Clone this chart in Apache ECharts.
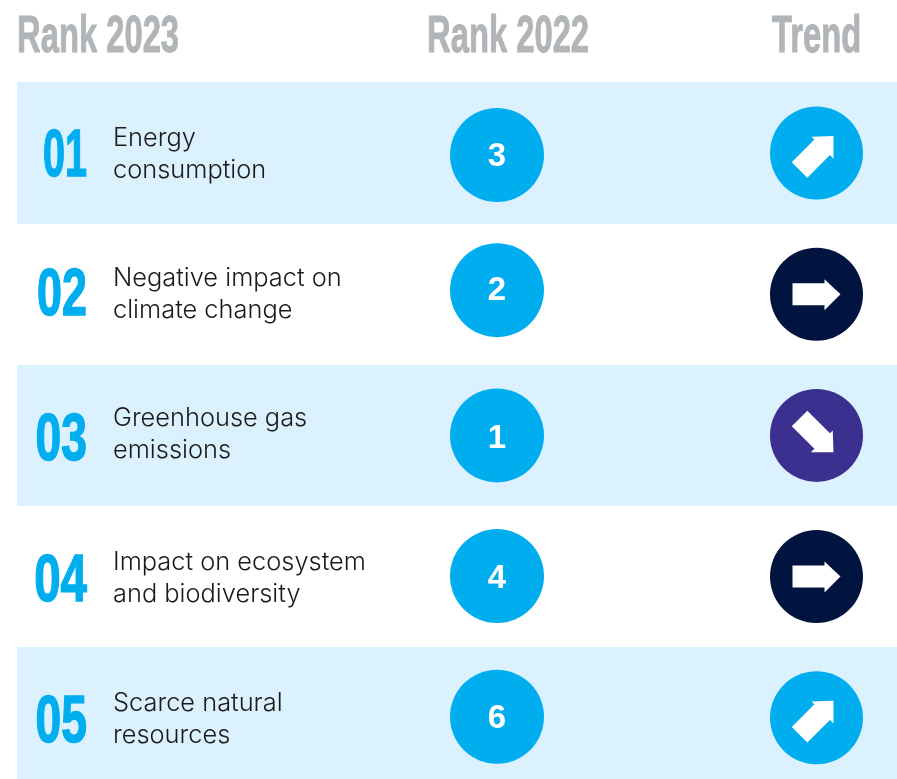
<!DOCTYPE html>
<html>
<head>
<meta charset="utf-8">
<style>
html,body{margin:0;padding:0;background:#fff}
#chart{width:897px;height:779px}
</style>
<script src="https://cdn.jsdelivr.net/npm/echarts@6/dist/echarts.min.js"></script>
</head>
<body>
<div id="chart"></div>
<script>
var headers = ["Rank 2023", "Rank 2022", "Trend"]
var rank2023 = ["01", "02", "03", "04", "05"]
var topics = [
  "Energy\nconsumption",
  "Negative impact on\nclimate change",
  "Greenhouse gas\nemissions",
  "Impact on ecosystem\nand biodiversity",
  "Scarce natural\nresources"
]
var rank2022 = [3, 2, 1, 4, 6]
var trend = ["up", "flat", "down", "flat", "up"]

var trendColor = { up: "#00aeef", flat: "#00143f", down: "#3b2f8f" }
var trendRotation = { up: Math.PI / 4, flat: 0, down: -Math.PI / 4 }
var arrowShape = [[-24,-11],[8,-11],[8,-15],[24,0],[8,16],[8,11],[-24,11]]

// small nudges so everything sits where it does in the source
var numberScale = [0.6, 0.68, 0.7, 0.72, 0.7]
var numberDy = [4.5, 3, 6, 6, 5.5]
var textDy = [1, 0, -1, 2, 2]
var badgeDy = [2, -4, 0, -0.5, -1]
var digitDy = [2, 1, 4, 3, 2]

function renderRow(params, api) {
  var i = api.value(0)
  var c = api.coord([0, i])
  var size = api.size([0, 1])
  var cy = c[1]
  var kids = []
  if (i % 2 == 0) {
    var y0 = Math.round(cy - size[1] / 2)
    var y1 = Math.round(cy + size[1] / 2)
    kids.push({
      type: "rect",
      shape: { x: 17, y: y0, width: 880, height: y1 - y0 },
      style: { fill: "#dbf1fd" }
    })
  }
  kids.push({
    type: "text",
    x: 87, y: cy + numberDy[i], scaleX: numberScale[i],
    style: {
      text: rank2023[i], fill: "#00aeef",
      stroke: "#00aeef", lineWidth: 1.5,
      font: "bold 66px 'Liberation Sans Narrow','Liberation Sans',sans-serif",
      align: "right", verticalAlign: "middle"
    }
  })
  kids.push({
    type: "text",
    x: 113, y: cy + textDy[i],
    style: {
      text: topics[i], fill: "#1a1a1a",
      font: "300 25.4px Inter,sans-serif", lineHeight: 32,
      verticalAlign: "middle"
    }
  })
  kids.push({
    type: "circle",
    shape: { cx: 497, cy: cy + badgeDy[i], r: 47 },
    style: { fill: "#00aeef" }
  })
  kids.push({
    type: "text",
    x: 497, y: cy + badgeDy[i] + digitDy[i],
    style: {
      text: String(rank2022[i]), fill: "#fff",
      font: "bold 33px 'Liberation Sans',sans-serif",
      align: "center", verticalAlign: "middle"
    }
  })
  kids.push({
    type: "circle",
    shape: { cx: 816.5, cy: cy, r: 46.5 },
    style: { fill: trendColor[trend[i]] }
  })
  kids.push({
    type: "polygon",
    x: 816.5, y: cy, rotation: trendRotation[trend[i]],
    shape: { points: arrowShape },
    style: { fill: "#fff" }
  })
  return { type: "group", children: kids }
}

var headerX = [17, 427, 772]
var chart = echarts.init(document.getElementById("chart"), null, { renderer: "canvas" })
chart.setOption({
  animation: false,
  grid: { left: 0, right: 0, top: 82.4, height: 706, outerBoundsMode: "none" },
  xAxis: { type: "value", min: 0, max: 897, show: false },
  yAxis: { type: "category", inverse: true, show: false, data: rank2023 },
  graphic: headers.map(function (h, i) {
    return {
      type: "text", x: headerX[i], y: 38, scaleX: 0.63,
      style: {
        text: h, fill: "#b1b5b8",
        stroke: "#b1b5b8", lineWidth: 1,
        font: "bold 52px 'Liberation Sans Narrow','Liberation Sans',sans-serif",
        verticalAlign: "middle"
      }
    }
  }),
  series: [{
    type: "custom",
    clip: false,
    coordinateSystem: "cartesian2d",
    encode: { x: 1, y: 0 },
    data: rank2023.map(function (r, i) { return [i, rank2022[i]] }),
    renderItem: renderRow
  }]
})
</script>
</body>
</html>
